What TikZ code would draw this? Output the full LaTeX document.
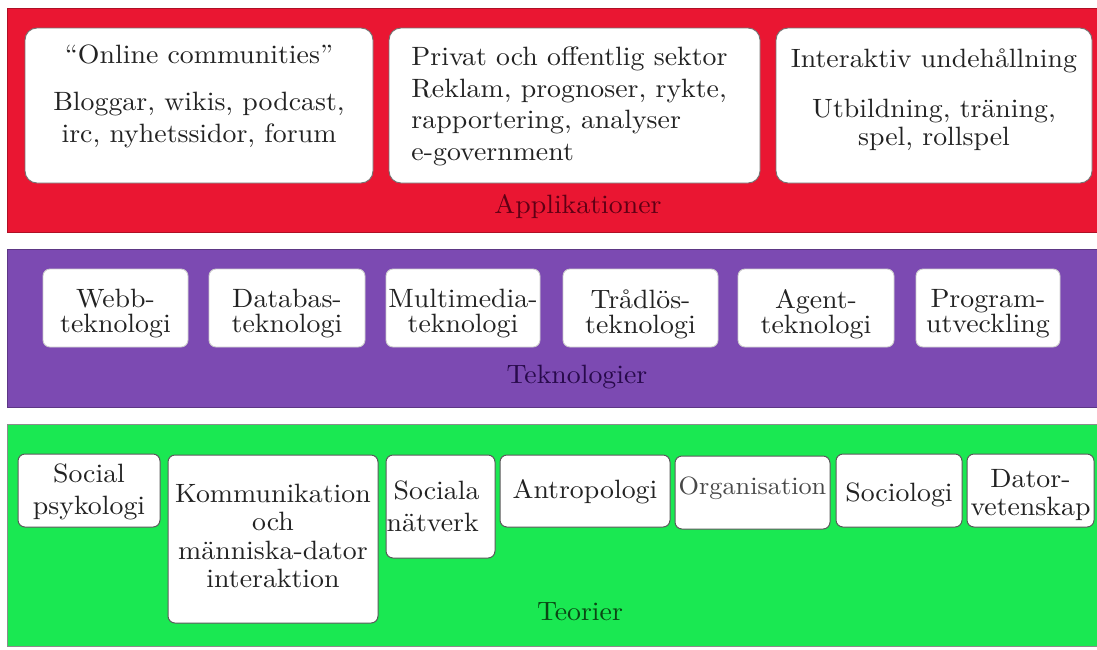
\documentclass[tikz,border=0pt]{standalone}
\usepackage{fontspec}
\setmainfont{lmroman10-regular.otf}[FakeStretch=1.05]
\definecolor{appred}{RGB}{234,22,50}
\definecolor{tekpurple}{RGB}{124,74,178}
\definecolor{teogreen}{RGB}{26,232,82}
\definecolor{appdark}{RGB}{95,0,20}
\definecolor{tekdark}{RGB}{40,10,75}
\definecolor{teodark}{RGB}{10,70,20}
\definecolor{ink}{RGB}{34,34,34}
\tikzset{
  band/.style={draw=#1!75!black, fill=#1, line width=0.7pt, inner sep=0pt},
  card/.style={fill=white, line width=0.9pt, inner sep=0pt},
  appcard/.style={card, draw=black!55, rounded corners=12pt},
  tekcard/.style={card, draw=white!80!black, rounded corners=7pt},
  teocard/.style={card, draw=black!65, line width=1pt, rounded corners=7pt},
  % text placed inside a card: vertical shift, line spacing, text
  intext/.style n args={3}{label={[text=ink, align=center, inner sep=0pt,
      font=\fontsize{26.5}{#2}\selectfont, yshift=#1]center:{#3}}},
  bandlabel/.style={font=\fontsize{26.5}{30}\selectfont, text=#1},
}
\begin{document}
\begin{tikzpicture}[x=1pt,y=-1pt]
\useasboundingbox (0,0) rectangle (1097,649);

% layer bands
\node[band=appred, minimum width=1090pt, minimum height=224pt] (app) at (552,120) {};
\node[band=tekpurple, minimum width=1090pt, minimum height=158pt] (tek) at (552,328) {};
\node[band=teogreen, draw=black!45, minimum width=1090pt, minimum height=222pt] (teo) at (552,535) {};

% applications
\node[appcard, minimum width=348pt, minimum height=155pt,
  intext={9pt}{32}{``Online communities''\\[15pt] Bloggar, wikis, podcast,\\ irc, nyhetssidor, forum}]
  (a1) at (199,105.5) {};
\node[appcard, minimum width=371pt, minimum height=155pt,
  label={[text=ink, align=left, inner sep=0pt, font=\fontsize{26.5}{31.5}\selectfont,
          yshift=-1pt, xshift=-5pt]center:{Privat och offentlig sektor\\ Reklam, prognoser, rykte,\\ rapportering, analyser\\ e-government}}]
  (a2) at (574.5,105.5) {};
\node[appcard, minimum width=316pt, minimum height=155pt,
  intext={5.5pt}{28}{Interaktiv undehållning\\[22pt] Utbildning, träning,\\ spel, rollspel}]
  (a3) at (934,105.5) {};
\node[bandlabel=appdark] (applabel) at (578,207) {Applikationer};

% technologies
\node[tekcard, minimum width=145pt, minimum height=78pt, intext={-6pt}{25}{Webb-\\teknologi}] (t1) at (115.5,308) {};
\node[tekcard, minimum width=156pt, minimum height=78pt, intext={-6pt}{25}{Databas-\\teknologi}] (t2) at (287,308) {};
\node[tekcard, minimum width=154pt, minimum height=78pt, intext={-6pt}{25}{Multimedia-\\teknologi}] (t3) at (463,308) {};
\node[tekcard, minimum width=155pt, minimum height=78pt, intext={-6pt}{25}{Trådlös-\\teknologi}] (t4) at (640.5,308) {};
\node[tekcard, minimum width=156pt, minimum height=78pt, intext={-6pt}{25}{Agent-\\teknologi}] (t5) at (816,308) {};
\node[tekcard, minimum width=144pt, minimum height=78pt, intext={-6pt}{25}{Program-\\utveckling}] (t6) at (988,308) {};
\node[bandlabel=tekdark] (teklabel) at (577,377) {Teknologier};

% theories
\node[teocard, minimum width=142pt, minimum height=73pt, intext={-1.5pt}{32}{Social\\psykologi}] (g1) at (89,490.5) {};
\node[teocard, minimum width=210pt, minimum height=168pt,
  intext={3pt}{28.3}{Kommunikation\\och\\människa-dator\\interaktion}] (g2) at (273,539) {};
\node[teocard, minimum width=109pt, minimum height=103pt,
  label={[text=ink, align=left, inner sep=0pt, font=\fontsize{26.5}{32}\selectfont,
          anchor=west, xshift=1pt]west:{\hspace*{7pt}Sociala\\nätverk}}] (g3) at (440.5,506.5) {};
\node[teocard, minimum width=170pt, minimum height=72pt, intext={-1pt}{30}{Antropologi}] (g4) at (585,491) {};
\node[teocard, minimum width=155pt, minimum height=73pt,
  label={[text=black!72, inner sep=0pt, font=\fontsize{25}{28}\selectfont, yshift=4.5pt]center:Organisation}]
  (g5) at (752.5,492.5) {};
\node[teocard, minimum width=126pt, minimum height=73pt, intext={-4pt}{30}{Sociologi}] (g6) at (899,490.5) {};
\node[teocard, minimum width=127pt, minimum height=73pt, intext={-4.5pt}{28}{Dator-\\vetenskap}] (g7) at (1030.5,490.5) {};
\node[bandlabel=teodark] (teolabel) at (580,612) {Teorier};
\end{tikzpicture}
\end{document}
